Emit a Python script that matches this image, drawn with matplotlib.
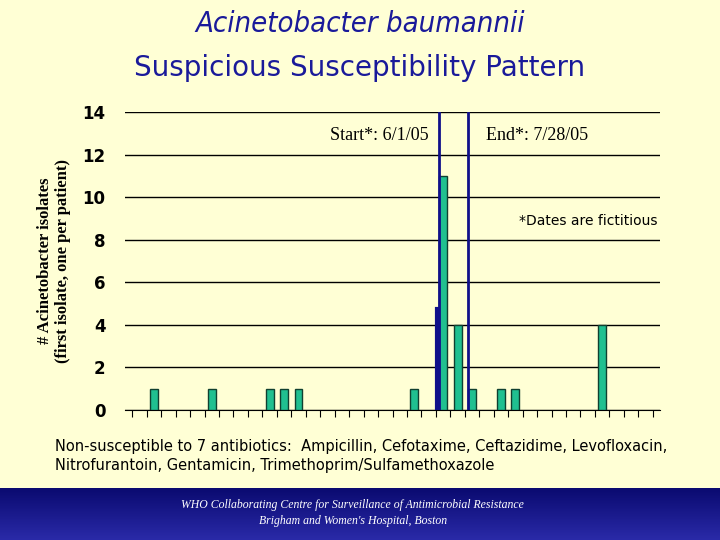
import matplotlib.pyplot as plt
import numpy as np

weeks = [1, 5, 9, 10, 11, 19, 21, 22, 23, 25, 26, 32]
counts = [1, 1, 1, 1, 1, 1, 11, 4, 1, 1, 1, 4]
start_week = 20.7
end_week = 22.7
y_ticks = [0, 2, 4, 6, 8, 10, 12, 14]

BG = "#FFFFD5"
fig = plt.figure(figsize=(7.2, 5.4), dpi=100, facecolor=BG)

fig.text(0.5, 0.955, "Acinetobacter baumannii", ha="center", va="center",
         fontsize=21, style="italic", color="#1a1a9a", family="DejaVu Sans", stretch="condensed")
fig.text(0.5, 0.875, "Suspicious Susceptibility Pattern", ha="center", va="center",
         fontsize=20, color="#1a1a9a", family="DejaVu Sans")

ax = fig.add_axes([125 / 720, 130 / 540, 535 / 720, 298 / 540], facecolor=BG)
ax.bar(weeks, counts, width=0.55, color="#20C090", edgecolor="#104030", linewidth=1, zorder=3)
ax.axvline(start_week - 0.15, ymin=0, ymax=0.34, color="#10108a", linewidth=3, zorder=4)
ax.axvline(start_week, ymin=0.0, ymax=1.0, color="#10108a", linewidth=2, zorder=4)
ax.axvline(end_week, ymin=0.0, ymax=1.0, color="#10108a", linewidth=2, zorder=4)

ax.set_xlim(-1, 36)
ax.set_ylim(0, 14)
ax.set_yticks(y_ticks)
ax.yaxis.grid(True, color="black", linewidth=1)
ax.set_axisbelow(True)
ax.set_xticks(np.arange(-0.5, 36, 1))
ax.set_xticklabels([])
ax.tick_params(axis="x", direction="out", length=5)
ax.tick_params(axis="y", length=0, labelsize=12, pad=14)
for lbl in ax.get_yticklabels():
    lbl.set_fontweight("bold")
for s in ["top", "right", "left"]:
    ax.spines[s].set_visible(False)
ax.set_ylabel("# Acinetobacter isolates\n(first isolate, one per patient)",
              family="Liberation Serif", fontsize=12, fontweight="bold", labelpad=8)

ax.text(13.2, 12.7, "Start*: 6/1/05", family="Liberation Serif", fontsize=13)
ax.text(24.0, 12.7, "End*: 7/28/05", family="Liberation Serif", fontsize=13)
ax.text(35.8, 8.7, "*Dates are fictitious", ha="right", fontsize=10)

fig.text(55 / 720, 1 - 456 / 540,
         "Non-susceptible to 7 antibiotics:  Ampicillin, Cefotaxime, Ceftazidime, Levofloxacin,\n"
         "Nitrofurantoin, Gentamicin, Trimethoprim/Sulfamethoxazole",
         fontsize=10.5, va="center", linespacing=1.3)

band = fig.add_axes([0, 0, 1, 52 / 540])
grad = np.linspace(0, 1, 100).reshape(-1, 1)
band.imshow(grad, aspect="auto", cmap=plt.matplotlib.colors.LinearSegmentedColormap.from_list(
    "b", ["#0a0a70", "#2a2aa8"]), extent=[0, 1, 0, 1])
band.axis("off")
band.text(0.49, 0.68, "WHO Collaborating Centre for Surveillance of Antimicrobial Resistance",
          ha="center", va="center", color="white", style="italic", family="Liberation Serif", fontsize=8.5)
band.text(0.49, 0.36, "Brigham and Women's Hospital, Boston",
          ha="center", va="center", color="white", style="italic", family="Liberation Serif", fontsize=8.5)

fig.savefig("out.png", dpi=100, facecolor=BG)
